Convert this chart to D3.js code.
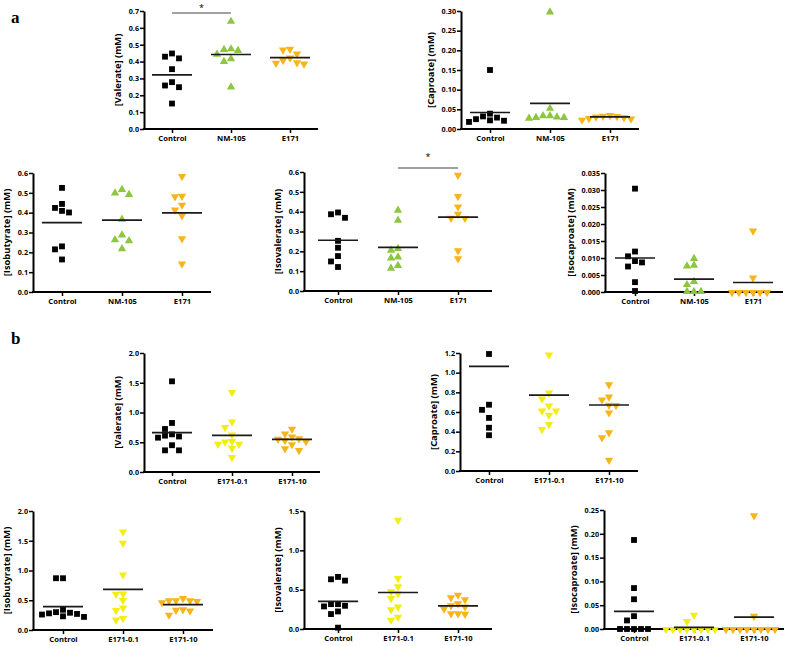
<!DOCTYPE html>
<html><head><meta charset="utf-8">
<script src="https://cdn.jsdelivr.net/npm/d3@7"></script>
<style>body{margin:0;background:#fff}svg{display:block}</style>
</head><body>
<svg id="chart" width="786" height="646"></svg>
<script>
// ---------- categories ----------
const groupsA = ["Control", "NM-105", "E171"];
const groupsB = ["Control", "E171-0.1", "E171-10"];

// ---------- titles ----------
const titleValerate = "[Valerate] (mM)";
const titleCaproate = "[Caproate] (mM)";
const titleIsobutyrate = "[Isobutyrate] (mM)";
const titleIsovalerate = "[Isovalerate] (mM)";
const titleIsocaproate = "[Isocaproate] (mM)";

// ---------- series values (panel a) ----------
const aValerate = [
  [0.429, 0.419, 0.448, 0.355, 0.278, 0.258, 0.248, 0.151],
  [0.635, 0.472, 0.462, 0.468, 0.413, 0.397, 0.440, 0.246],
  [0.472, 0.448, 0.476, 0.425, 0.397, 0.389, 0.393, 0.410]
];
const aValerateMean = [0.321, 0.442, 0.423];

const aCaproate = [
  [0.150, 0.039, 0.029, 0.022, 0.018, 0.032, 0.021, 0.025],
  [0.296, 0.051, 0.032, 0.028, 0.026, 0.032, 0.029, 0.028],
  [0.034, 0.028, 0.033, 0.024, 0.027, 0.036, 0.032, 0.030]
];
const aCaproateMean = [0.042, 0.065, 0.031];

const aIsobutyrate = [
  [0.525, 0.444, 0.424, 0.401, 0.409, 0.230, 0.215, 0.164],
  [0.496, 0.489, 0.514, 0.364, 0.285, 0.261, 0.256, 0.215],
  [0.585, 0.483, 0.486, 0.441, 0.416, 0.387, 0.271, 0.144]
];
const aIsobutyrateMean = [0.350, 0.362, 0.399];

const aIsovalerate = [
  [0.387, 0.369, 0.396, 0.253, 0.218, 0.176, 0.149, 0.121],
  [0.404, 0.354, 0.203, 0.211, 0.169, 0.164, 0.126, 0.112],
  [0.587, 0.479, 0.427, 0.390, 0.369, 0.370, 0.206, 0.166]
];
const aIsovalerateMean = [0.256, 0.220, 0.372];

const aIsocaproate = [
  [0.0304, 0.0119, 0.0105, 0.0091, 0.0087, 0.0075, 0.0029, 0.0003],
  [0.0097, 0.0075, 0.0077, 0.0029, 0.0020, 0.0, 0.0, 0.0],
  [0.0181, 0.0043, 0.0, 0.0, 0.0, 0.0, 0.0, 0.0]
];
const aIsocaproateMean = [0.0100, 0.0038, 0.0028];

// ---------- series values (panel b) ----------
const bValerate = [
  [1.524, 0.824, 0.723, 0.633, 0.597, 0.577, 0.611, 0.450, 0.364, 0.364],
  [1.345, 0.852, 0.756, 0.633, 0.515, 0.476, 0.409, 0.476, 0.521, 0.252],
  [0.730, 0.650, 0.570, 0.540, 0.520, 0.470, 0.600, 0.400, 0.370, 0.560]
];
const bValerateMean = [0.661, 0.616, 0.549];

const bCaproate = [
  [1.190, 0.674, 0.622, 0.540, 0.440, 0.364],
  [1.186, 0.799, 0.738, 0.667, 0.617, 0.617, 0.573, 0.479, 0.428],
  [0.883, 0.758, 0.728, 0.674, 0.671, 0.597, 0.394, 0.344, 0.115]
];
const bCaproateMean = [1.065, 0.772, 0.671];

const bIsobutyrate = [
  [0.870, 0.870, 0.290, 0.260, 0.340, 0.300, 0.220, 0.230, 0.270, 0.280],
  [1.658, 1.468, 0.936, 0.616, 0.611, 0.504, 0.381, 0.336, 0.179, 0.202],
  [0.500, 0.500, 0.470, 0.540, 0.490, 0.500, 0.340, 0.260, 0.330, 0.350]
];
const bIsobutyrateMean = [0.392, 0.683, 0.426];

const bIsovalerate = [
  [0.632, 0.615, 0.662, 0.316, 0.287, 0.295, 0.316, 0.223, 0.190, 0.017],
  [1.391, 0.649, 0.544, 0.480, 0.455, 0.396, 0.287, 0.253, 0.156, 0.118],
  [0.438, 0.405, 0.379, 0.329, 0.303, 0.287, 0.261, 0.202, 0.194, 0.202]
];
const bIsovalerateMean = [0.350, 0.464, 0.295];

const bIsocaproate = [
  [0.187, 0.086, 0.0625, 0.027, 0.018, 0.0, 0.0, 0.0, 0.0, 0.0],
  [0.030, 0.017, 0.0, 0.0, 0.0, 0.0, 0.0, 0.0, 0.0, 0.0],
  [0.239, 0.028, 0.0, 0.0, 0.0, 0.0, 0.0, 0.0, 0.0, 0.0]
];
const bIsocaproateMean = [0.037, 0.0035, 0.025];

// ---------- axis ticks ----------
const ticksA1 = [0, 0.1, 0.2, 0.3, 0.4, 0.5, 0.6, 0.7];
const ticksA2 = [0, 0.05, 0.10, 0.15, 0.20, 0.25, 0.30];
const ticksA3 = [0, 0.1, 0.2, 0.3, 0.4, 0.5, 0.6];
const ticksA5 = [0, 0.005, 0.010, 0.015, 0.020, 0.025, 0.030, 0.035];
const ticksB1 = [0, 0.5, 1.0, 1.5, 2.0];
const ticksB2 = [0, 0.2, 0.4, 0.6, 0.8, 1.0, 1.2];
const ticksB4 = [0, 0.5, 1.0, 1.5];
const ticksB5 = [0, 0.05, 0.10, 0.15, 0.20, 0.25];

// ---------- styles ----------
const colorsA = ["#000000", "#8dc63f", "#f6b51b"];
const colorsB = ["#000000", "#f2ee12", "#f6b51b"];
const shapesA = ["square", "up", "down"];
const shapesB = ["square", "down", "down"];

// ---------- layout (positions only) ----------
const panels = [
  {vals: aValerate, means: aValerateMean, cats: groupsA, colors: colorsA, shapes: shapesA, title: titleValerate, ticks: ticksA1, fmt: ".1f", ax: 144, c0: 172, step: 59, yTop: 11, yBot: 129, sig: [0, 1], sigY: 13, starY: 11},
  {vals: aCaproate, means: aCaproateMean, cats: groupsA, colors: colorsA, shapes: shapesA, title: titleCaproate, ticks: ticksA2, fmt: ".2f", ax: 461, c0: 490, step: 60, yTop: 11, yBot: 129},
  {vals: aIsobutyrate, means: aIsobutyrateMean, cats: groupsA, colors: colorsA, shapes: shapesA, title: titleIsobutyrate, ticks: ticksA3, fmt: ".1f", ax: 33, c0: 62, step: 60, yTop: 173, yBot: 292},
  {vals: aIsovalerate, means: aIsovalerateMean, cats: groupsA, colors: colorsA, shapes: shapesA, title: titleIsovalerate, ticks: ticksA3, fmt: ".1f", ax: 304, c0: 338, step: 60, yTop: 172, yBot: 291, sig: [1, 2], sigY: 168, starY: 160},
  {vals: aIsocaproate, means: aIsocaproateMean, cats: groupsA, colors: colorsA, shapes: shapesA, title: titleIsocaproate, ticks: ticksA5, fmt: ".3f", ax: 605, c0: 635, step: 59, yTop: 173, yBot: 292},
  {vals: bValerate, means: bValerateMean, cats: groupsB, colors: colorsB, shapes: shapesB, title: titleValerate, ticks: ticksB1, fmt: ".1f", ax: 144, c0: 172, step: 60, yTop: 353, yBot: 472},
  {vals: bCaproate, means: bCaproateMean, cats: groupsB, colors: colorsB, shapes: shapesB, title: titleCaproate, ticks: ticksB2, fmt: ".1f", ax: 460, c0: 489, step: 60, yTop: 353, yBot: 471},
  {vals: bIsobutyrate, means: bIsobutyrateMean, cats: groupsB, colors: colorsB, shapes: shapesB, title: titleIsobutyrate, ticks: ticksB1, fmt: ".1f", ax: 33, c0: 63, step: 60, yTop: 511, yBot: 630},
  {vals: bIsovalerate, means: bIsovalerateMean, cats: groupsB, colors: colorsB, shapes: shapesB, title: titleIsovalerate, ticks: ticksB4, fmt: ".1f", ax: 304, c0: 338, step: 60, yTop: 511, yBot: 629},
  {vals: bIsocaproate, means: bIsocaproateMean, cats: groupsB, colors: colorsB, shapes: shapesB, title: titleIsocaproate, ticks: ticksB5, fmt: ".2f", ax: 604, c0: 634, step: 60, yTop: 510, yBot: 629}
];

const svg = d3.select("#chart");
const FONT = "'Open Sans', 'Liberation Sans', sans-serif";

function swarm(vals, y, cx, dx, size) {
  const idx = vals.map((v, i) => i).sort((a, b) => vals[b] - vals[a]);
  const placed = [];
  const out = new Array(vals.length);
  const order = [0, -1, 1, -2, 2, -3, 3, -4, 4, -5, 5];
  idx.forEach(i => {
    const py = y(vals[i]);
    for (const k of order) {
      if (!placed.some(p => p.k === k && Math.abs(p.py - py) < size)) {
        placed.push({k, py}); out[i] = cx + k * dx; break;
      }
    }
  });
  return out;
}

const symSquare = d3.symbol().type(d3.symbolSquare).size(34)();
const symTri = d3.symbol().type(d3.symbolTriangle).size(30)();

panels.forEach(p => {
  const g = svg.append("g");
  const maxV = p.ticks[p.ticks.length - 1];
  const y = d3.scaleLinear().domain([0, maxV]).range([p.yBot, p.yTop]);
  const x = d3.scalePoint().domain(p.cats).range([p.c0, p.c0 + 2 * p.step]);
  const xEnd = p.c0 + 2 * p.step + (p.c0 - p.ax);

  // y axis
  const yAxis = d3.axisLeft(y).tickValues(p.ticks).tickFormat(d3.format(p.fmt)).tickSize(4).tickSizeOuter(0);
  const ag = g.append("g").attr("transform", `translate(${p.ax},0)`).call(yAxis);
  ag.select(".domain").attr("stroke", "#000").attr("stroke-width", 2);
  ag.selectAll(".tick line").attr("stroke", "#000").attr("stroke-width", 1.5);
  ag.selectAll(".tick text").attr("font-family", FONT).attr("font-weight", 700)
    .attr("font-size", "7.2px").attr("fill", "#000").attr("x", -5);

  // x axis
  const xAxis = d3.axisBottom(x).tickSize(4).tickSizeOuter(0);
  const xg = g.append("g").attr("transform", `translate(0,${p.yBot})`).call(xAxis);
  xg.select(".domain").remove();
  xg.insert("line", ":first-child").attr("x1", p.ax - 1).attr("x2", xEnd).attr("y1", 0).attr("y2", 0)
    .attr("stroke", "#000").attr("stroke-width", 2);
  xg.selectAll(".tick line").attr("stroke", "#000").attr("stroke-width", 1.5);
  xg.selectAll(".tick text").attr("font-family", FONT).attr("font-weight", 700)
    .attr("font-size", "7.6px").attr("fill", "#000").attr("y", 7);

  // y title (bbox is local to the axis group)
  const bb = ag.node().getBBox();
  const tx = p.ax + bb.x - 8;
  const ty = (p.yTop + p.yBot) / 2;
  g.append("text").attr("transform", `translate(${tx},${ty}) rotate(-90)`)
    .attr("text-anchor", "middle").attr("font-family", FONT).attr("font-weight", 700)
    .attr("font-size", "9.4px").attr("fill", "#000").text(p.title);

  // points
  p.cats.forEach((c, gi) => {
    const vals = p.vals[gi];
    const xs = swarm(vals, y, x(c), 7, 6.5);
    const shape = p.shapes[gi];
    const d = shape === "square" ? symSquare : symTri;
    g.append("g").selectAll("path").data(vals).join("path")
      .attr("d", d)
      .attr("transform", (v, i) => `translate(${xs[i]},${y(v) + (shape === "square" ? 0 : (shape === "down" ? 0.5 : -0.5))})` + (shape === "down" ? " rotate(180)" : ""))
      .attr("fill", p.colors[gi]);
  });

  // mean lines
  g.append("g").selectAll("line").data(p.means).join("line")
    .attr("x1", (m, i) => x(p.cats[i]) - 20).attr("x2", (m, i) => x(p.cats[i]) + 20)
    .attr("y1", m => y(m)).attr("y2", m => y(m))
    .attr("stroke", "#1a1a1a").attr("stroke-width", 1.7);

  // significance
  if (p.sig) {
    const x1 = x(p.cats[p.sig[0]]), x2 = x(p.cats[p.sig[1]]);
    g.append("line").attr("x1", x1).attr("x2", x2).attr("y1", p.sigY).attr("y2", p.sigY)
      .attr("stroke", "#444").attr("stroke-width", 1.2);
    g.append("text").attr("x", (x1 + x2) / 2).attr("y", p.starY).attr("text-anchor", "middle")
      .attr("font-family", FONT).attr("font-size", "9px").attr("fill", "#000").text("*");
  }
});

// panel letters
svg.append("text").attr("x", 11).attr("y", 23).attr("font-family", "'Liberation Serif', serif")
  .attr("font-weight", 700).attr("font-size", "17px").text("a");
svg.append("text").attr("x", 11).attr("y", 344).attr("font-family", "'Liberation Serif', serif")
  .attr("font-weight", 700).attr("font-size", "17px").text("b");
</script>
</body></html>
